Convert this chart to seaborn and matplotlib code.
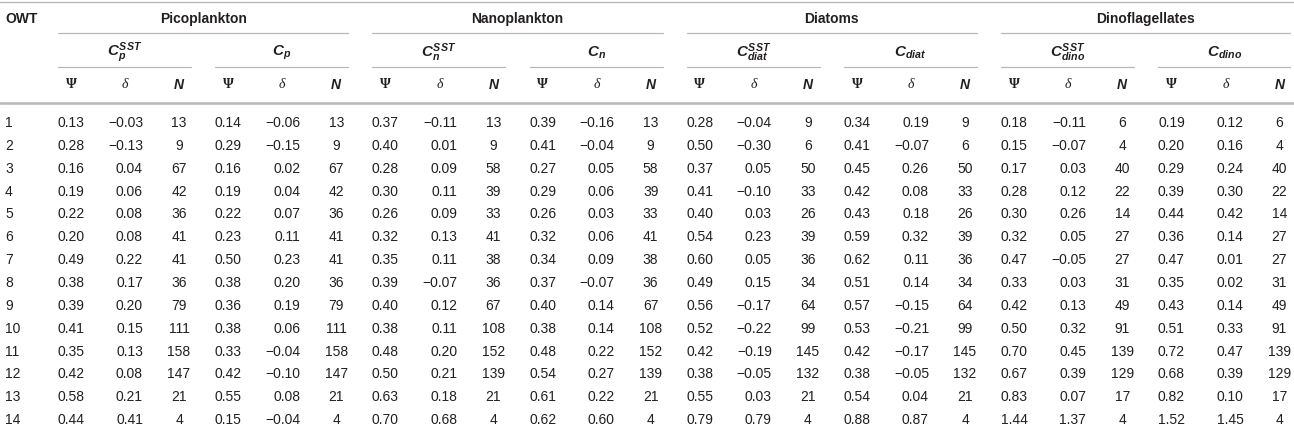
import pandas as pd
import matplotlib
matplotlib.use("Agg")
import matplotlib.pyplot as plt
import seaborn as sns

# OWT classes (rows)
owt = list(range(1, 15))

# Picoplankton
pico_sst_psi = [0.13, 0.28, 0.16, 0.19, 0.22, 0.20, 0.49, 0.38, 0.39, 0.41, 0.35, 0.42, 0.58, 0.44]
pico_sst_delta = [-0.03, -0.13, 0.04, 0.06, 0.08, 0.08, 0.22, 0.17, 0.20, 0.15, 0.13, 0.08, 0.21, 0.41]
pico_sst_n = [13, 9, 67, 42, 36, 41, 41, 36, 79, 111, 158, 147, 21, 4]
pico_psi = [0.14, 0.29, 0.16, 0.19, 0.22, 0.23, 0.50, 0.38, 0.36, 0.38, 0.33, 0.42, 0.55, 0.15]
pico_delta = [-0.06, -0.15, 0.02, 0.04, 0.07, 0.11, 0.23, 0.20, 0.19, 0.06, -0.04, -0.10, 0.08, -0.04]
pico_n = [13, 9, 67, 42, 36, 41, 41, 36, 79, 111, 158, 147, 21, 4]

# Nanoplankton
nano_sst_psi = [0.37, 0.40, 0.28, 0.30, 0.26, 0.32, 0.35, 0.39, 0.40, 0.38, 0.48, 0.50, 0.63, 0.70]
nano_sst_delta = [-0.11, 0.01, 0.09, 0.11, 0.09, 0.13, 0.11, -0.07, 0.12, 0.11, 0.20, 0.21, 0.18, 0.68]
nano_sst_n = [13, 9, 58, 39, 33, 41, 38, 36, 67, 108, 152, 139, 21, 4]
nano_psi = [0.39, 0.41, 0.27, 0.29, 0.26, 0.32, 0.34, 0.37, 0.40, 0.38, 0.48, 0.54, 0.61, 0.62]
nano_delta = [-0.16, -0.04, 0.05, 0.06, 0.03, 0.06, 0.09, -0.07, 0.14, 0.14, 0.22, 0.27, 0.22, 0.60]
nano_n = [13, 9, 58, 39, 33, 41, 38, 36, 67, 108, 152, 139, 21, 4]

# Diatoms
diat_sst_psi = [0.28, 0.50, 0.37, 0.41, 0.40, 0.54, 0.60, 0.49, 0.56, 0.52, 0.42, 0.38, 0.55, 0.79]
diat_sst_delta = [-0.04, -0.30, 0.05, -0.10, 0.03, 0.23, 0.05, 0.15, -0.17, -0.22, -0.19, -0.05, 0.03, 0.79]
diat_sst_n = [9, 6, 50, 33, 26, 39, 36, 34, 64, 99, 145, 132, 21, 4]
diat_psi = [0.34, 0.41, 0.45, 0.42, 0.43, 0.59, 0.62, 0.51, 0.57, 0.53, 0.42, 0.38, 0.54, 0.88]
diat_delta = [0.19, -0.07, 0.26, 0.08, 0.18, 0.32, 0.11, 0.14, -0.15, -0.21, -0.17, -0.05, 0.04, 0.87]
diat_n = [9, 6, 50, 33, 26, 39, 36, 34, 64, 99, 145, 132, 21, 4]

# Dinoflagellates
dino_sst_psi = [0.18, 0.15, 0.17, 0.28, 0.30, 0.32, 0.47, 0.33, 0.42, 0.50, 0.70, 0.67, 0.83, 1.44]
dino_sst_delta = [-0.11, -0.07, 0.03, 0.12, 0.26, 0.05, -0.05, 0.03, 0.13, 0.32, 0.45, 0.39, 0.07, 1.37]
dino_sst_n = [6, 4, 40, 22, 14, 27, 27, 31, 49, 91, 139, 129, 17, 4]
dino_psi = [0.19, 0.20, 0.29, 0.39, 0.44, 0.36, 0.47, 0.35, 0.43, 0.51, 0.72, 0.68, 0.82, 1.52]
dino_delta = [0.12, 0.16, 0.24, 0.30, 0.42, 0.14, 0.01, 0.02, 0.14, 0.33, 0.47, 0.39, 0.10, 1.45]
dino_n = [6, 4, 40, 22, 14, 27, 27, 31, 49, 91, 139, 129, 17, 4]

groups = ["Picoplankton", "Nanoplankton", "Diatoms", "Dinoflagellates"]
sub_labels = [r"$C_p^{SST}$", r"$C_p$", r"$C_n^{SST}$", r"$C_n$",
              r"$C_{diat}^{SST}$", r"$C_{diat}$", r"$C_{dino}^{SST}$", r"$C_{dino}$"]

blocks = [
    (pico_sst_psi, pico_sst_delta, pico_sst_n), (pico_psi, pico_delta, pico_n),
    (nano_sst_psi, nano_sst_delta, nano_sst_n), (nano_psi, nano_delta, nano_n),
    (diat_sst_psi, diat_sst_delta, diat_sst_n), (diat_psi, diat_delta, diat_n),
    (dino_sst_psi, dino_sst_delta, dino_sst_n), (dino_psi, dino_delta, dino_n),
]

df = pd.DataFrame({"OWT": owt})
for k, (p, d, n) in enumerate(blocks):
    df[f"psi{k}"] = p
    df[f"delta{k}"] = d
    df[f"n{k}"] = n

sns.set_theme(style="white")
plt.rcParams["font.family"] = ["Liberation Sans", "DejaVu Sans"]
plt.rcParams["mathtext.fontset"] = "custom"
plt.rcParams["mathtext.it"] = "Liberation Sans:italic:bold"
plt.rcParams["mathtext.rm"] = "Liberation Sans:bold"
plt.rcParams["mathtext.bf"] = "Liberation Sans:bold"

W, H = 1294, 434
fig = plt.figure(figsize=(W / 100, H / 100), dpi=100)
ax = fig.add_axes([0, 0, 1, 1])
ax.set_xlim(0, W)
ax.set_ylim(H, 0)
ax.axis("off")

txt = "#231f20"
rule = "#b8b8b8"
fs = 10

# layout
psi_x = [71 + 157.2 * k for k in range(8)]
y_top, y_grp, y_grp_line = 1.5, 19, 33
y_sub, y_sub_line, y_sym, y_head_line = 53, 67, 85, 103
y_row0, row_h = 123, 22.85


def fmt(v):
    s = f"{abs(v):.2f}"
    return ("\u2212" + s) if v < 0 else s


# rules
ax.plot([0, W], [y_top, y_top], color=rule, lw=1.0)
ax.plot([0, W], [y_head_line, y_head_line], color=rule, lw=1.8)

ax.text(5, y_grp, "OWT", ha="left", va="center", fontsize=fs, fontweight="bold", color=txt)

for g, name in enumerate(groups):
    x0 = psi_x[2 * g] - 13
    x1 = min(psi_x[2 * g + 1] + 120, W - 4)
    ax.plot([x0, x1], [y_grp_line, y_grp_line], color=rule, lw=0.9)
    ax.text((x0 + x1) / 2, y_grp, name, ha="center", va="center",
            fontsize=fs, fontweight="bold", color=txt)

for k, lab in enumerate(sub_labels):
    x0 = psi_x[k] - 13
    x1 = min(psi_x[k] + 120, W - 4)
    ax.plot([x0, x1], [y_sub_line, y_sub_line], color=rule, lw=0.9)
    ax.text((x0 + x1) / 2, y_sub, lab, ha="center", va="center", fontsize=fs + 1, color=txt)
    ax.text(psi_x[k], y_sym, "\u03a8", ha="center", va="center", fontsize=fs,
            family="Liberation Serif", fontweight="bold", color=txt)
    ax.text(psi_x[k] + 54, y_sym, "\u03b4", ha="center", va="center", fontsize=fs,
            family="Liberation Serif", fontstyle="italic", color=txt)
    ax.text(psi_x[k] + 108, y_sym, "N", ha="center", va="center", fontsize=fs,
            fontweight="bold", fontstyle="italic", color=txt)

for i in range(len(df)):
    y = y_row0 + i * row_h
    ax.text(5, y, str(df["OWT"].iloc[i]), ha="left", va="center", fontsize=fs, color=txt)
    for k in range(8):
        ax.text(psi_x[k], y, fmt(df[f"psi{k}"].iloc[i]), ha="center", va="center",
                fontsize=fs, color=txt)
        ax.text(psi_x[k] + 72, y, fmt(df[f"delta{k}"].iloc[i]), ha="right", va="center",
                fontsize=fs, color=txt)
        ax.text(psi_x[k] + 108, y, str(int(df[f"n{k}"].iloc[i])), ha="center", va="center",
                fontsize=fs, color=txt)

fig.savefig("out.png", dpi=100)
